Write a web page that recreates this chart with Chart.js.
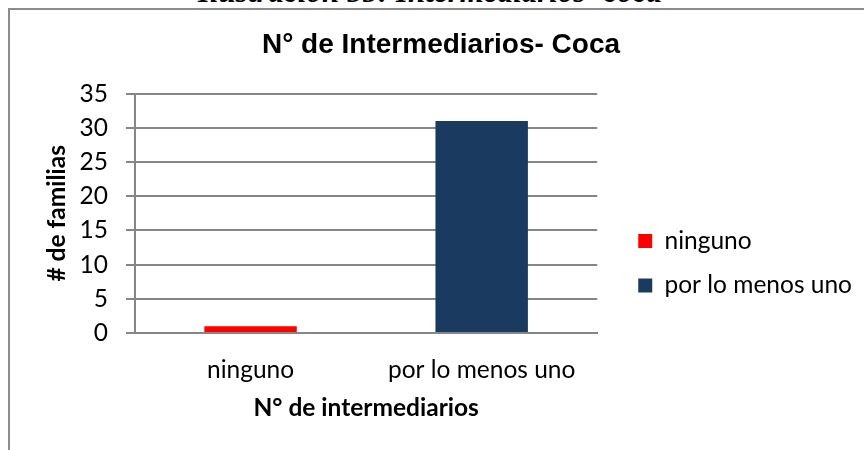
<!DOCTYPE html>
<html>
<head>
<meta charset="utf-8">
<script src="https://cdn.jsdelivr.net/npm/chart.js@4/dist/chart.umd.min.js"></script>
<style>
    html, body { margin: 0; padding: 0; background: #fff; overflow: hidden; }
    body { width: 864px; height: 450px; position: relative; }
    .caption {
        position: absolute; left: 0; width: 860px; top: -24px; text-align: center;
        font: italic bold 31px/31px "Liberation Serif", "DejaVu Serif", serif; color: #000;
        white-space: nowrap;
    }
    .frame {
        position: absolute; left: 8px; top: 8px; width: 900px; height: 460px;
        border-left: 2px solid #8c8c8c; border-top: 2px solid #8c8c8c;
    }
    #chart { position: absolute; left: 10px; top: 10px; }
</style>
</head>
<body>
<div class="caption">Ilustración 55: Intermediarios- coca</div>
<div class="frame"></div>
<canvas id="chart" width="854" height="440"></canvas>
<script>
// data
const categories = ['ninguno', 'por lo menos uno']
const familias = [1, 31]
const barColors = ['#FF0000', '#1B3A5F']
const yTicks = [0, 5, 10, 15, 20, 25, 30, 35]

const chartTitle = 'N° de Intermediarios- Coca'
const xTitle = 'N° de intermediarios'
const yTitle = '# de familias'

const gray = '#868686'
const bodyFont = 'Lato, Calibri, "Open Sans", sans-serif'

const ctx = document.getElementById('chart').getContext('2d')

new Chart(ctx, {
    type: 'bar',
    data: {
        labels: categories,
        datasets: [{
            label: yTitle,
            data: familias,
            backgroundColor: barColors,
            borderWidth: 0,
            categoryPercentage: 1,
            barPercentage: 0.4
        }]
    },
    options: {
        responsive: false,
        animation: false,
        devicePixelRatio: 1,
        layout: { padding: { left: 10, right: 2, top: 0, bottom: 12 } },
        plugins: {
            tooltip: { enabled: false },
            title: {
                display: true,
                text: chartTitle,
                color: '#000',
                font: { family: '"Liberation Sans", Arial, sans-serif', size: 28, weight: 'bold' },
                padding: { top: 18, bottom: 32 }
            },
            legend: {
                position: 'right',
                maxWidth: 300,
                // empty title, only pushes the items down like in the original
                title: { display: true, text: '', font: { size: 12 }, padding: { top: 64.1, bottom: 0 } },
                labels: {
                    color: '#000',
                    font: { family: bodyFont, size: 24.5 },
                    boxWidth: 14,
                    boxHeight: 14,
                    padding: 20,
                    generateLabels: (chart) => categories.map((c, i) => ({
                        text: c,
                        fillStyle: barColors[i],
                        strokeStyle: barColors[i],
                        fontColor: '#000',
                        lineWidth: 0,
                        hidden: false,
                        index: i
                    }))
                }
            }
        },
        scales: {
            x: {
                grid: { display: false, drawTicks: false },
                border: { display: true, color: gray, width: 2 },
                ticks: { color: '#000', font: { family: bodyFont, size: 24.5 }, padding: 22.3 },
                title: {
                    display: true,
                    text: xTitle,
                    color: '#000',
                    font: { family: bodyFont, size: 24.5, weight: 'bold' },
                    padding: { top: 0, bottom: 15.3 }
                },
                afterFit: (scale) => { scale.height = 105 }
            },
            y: {
                min: 0,
                max: 35,
                afterBuildTicks: (scale) => { scale.ticks = yTicks.map(v => ({ value: v })) },
                grid: { color: gray, lineWidth: 2, tickLength: 9, tickColor: gray },
                border: { display: true, color: gray, width: 2 },
                ticks: { color: '#000', font: { family: bodyFont, size: 24.5 }, padding: 18, autoSkip: false },
                title: {
                    display: true,
                    text: yTitle,
                    color: '#000',
                    font: { family: bodyFont, size: 24.5, weight: 'bold' },
                    padding: { top: 22.3, bottom: 12 }
                },
                afterFit: (scale) => { scale.width = 115 }
            },
            // empty right axis, only to leave the gap before the legend
            gap: {
                position: 'right',
                display: true,
                grid: { display: false },
                border: { display: false },
                ticks: { display: false },
                afterFit: (scale) => { scale.width = 21 }
            }
        }
    }
})
</script>
</body>
</html>
